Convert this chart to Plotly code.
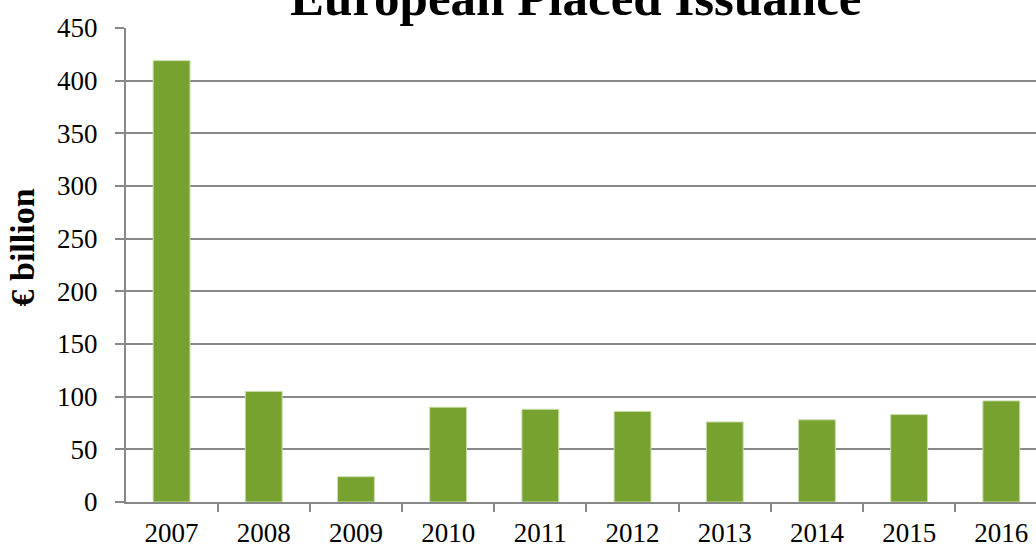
import plotly.graph_objects as go

years = ["2007", "2008", "2009", "2010", "2011", "2012", "2013", "2014", "2015", "2016"]
issuance = [419, 105, 24, 90, 88, 86, 76, 78, 83, 96]
y_ticks = [0, 50, 100, 150, 200, 250, 300, 350, 400, 450]

W, H = 1036, 547
L, R, T, B = 126, 0, 28, 45

fig = go.Figure(go.Bar(
    x=years, y=issuance,
    marker=dict(color="#78A22F", line=dict(color="#C9DDA8", width=1)),
    width=0.40,
))

font = "Liberation Serif"
fig.update_layout(
    width=W, height=H, autosize=False,
    margin=dict(l=L, r=R, t=T, b=B, pad=0, autoexpand=False),
    plot_bgcolor="white", paper_bgcolor="white",
    showlegend=False,
    font=dict(family=font, size=27, color="#000000"),
)
fig.update_xaxes(
    type="category", range=[-0.494, 9.376], automargin=False,
    showline=True, linecolor="#888888", linewidth=2,
    ticks="outside", tickson="boundaries", ticklen=8, tickcolor="#888888", tickwidth=2,
    showgrid=False, tickfont=dict(family=font, size=27),
    ticklabelstandoff=6,
)
fig.update_yaxes(
    range=[0, 450], tickvals=y_ticks, ticktext=[str(v) for v in y_ticks],
    automargin=False,
    showline=True, linecolor="#888888", linewidth=2,
    ticks="outside", ticklen=9, tickcolor="#888888", tickwidth=2,
    showgrid=True, gridcolor="#888888", gridwidth=2,
    zeroline=False, tickfont=dict(family=font, size=27),
    ticklabelstandoff=12,
)
fig.add_annotation(
    text="<b>European Placed Issuance</b>", xref="paper", yref="paper",
    x=(575 - L) / (W - L - R), y=1, yshift=0, xanchor="center", yanchor="bottom",
    showarrow=False, font=dict(family=font, size=51, color="#000000"),
)
fig.add_annotation(
    text="<b>€ billion</b>", xref="paper", yref="paper",
    x=(22 - L) / (W - L - R), y=(502 - 247.5) / (H - T - B), xanchor="center", yanchor="middle",
    textangle=-90, showarrow=False, font=dict(family=font, size=34, color="#000000"),
)
fig.write_html(
    "out.html",
    config={"displayModeBar": False},
    post_script="document.body.style.margin='0';document.body.style.overflow='hidden';",
)
